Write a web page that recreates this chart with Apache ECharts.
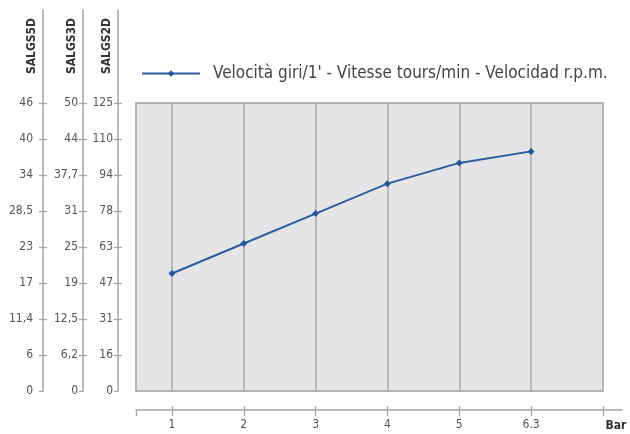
<!DOCTYPE html>
<html>
<head>
<meta charset="utf-8">
<script src="https://cdn.jsdelivr.net/npm/echarts@6/dist/echarts.min.js"></script>
<style>
  html, body {margin: 0; padding: 0; background: #fff;}
  #chart {width: 630px; height: 434px;}
</style>
</head>
<body>
<div id="chart"></div>
<script>
// pressure steps (x) and speed values (rpm, on SALGS2D scale)
const pressures = ['1', '2', '3', '4', '5', '6.3'];
const speed = [51, 64, 77, 90, 99, 104];
const seriesName = "Velocità giri/1' - Vitesse tours/min - Velocidad r.p.m.";

// tick labels of the three left scales, bottom to top
const ticks5D = ['0', '6', '11,4', '17', '23', '28,5', '34', '40', '46'];
const ticks3D = ['0', '6,2', '12,5', '19', '25', '31', '37,7', '44', '50'];
const ticks2D = ['0', '16', '31', '47', '63', '78', '94', '110', '125'];

const font = "'Liberation Sans Narrow', 'DejaVu Sans Condensed', 'Roboto', sans-serif";
const axisGrey = '#a4a4a4';
const textGrey = '#555';

const chart = echarts.init(document.getElementById('chart'));

// plot box is 8 tick-steps high; the scale lines run up to the top of the frame
const steps = ticks2D.length - 1;
const frameTop = 10, frameBottom = 43, boxTop = 103;
const frameH = 434 - frameTop - frameBottom;
const boxH = 434 - boxTop - frameBottom;
const frameMax = frameH / (boxH / steps);
const tickIdx = ticks2D.map((t, i) => i);
const xIdx = pressures.map((p, i) => i + 1);
const xFrameMax = 0.5 + (622 - 136) / ((603 - 136) / 6.5);

function leftAxis(name, labels, offset, margin) {
  return [{
    type: 'value', gridIndex: 1, position: 'left', offset: offset,
    min: 0, max: frameMax,
    name: name, nameLocation: 'end', nameRotate: 90, nameGap: -36,
    nameTextStyle: {
      fontFamily: font, fontWeight: 'bold', fontSize: 12, color: '#333',
      align: 'center', verticalAlign: 'bottom', padding: [0, 0, 5, 0]
    },
    axisLine: {show: true, onZero: false, lineStyle: {color: axisGrey, width: 1.5}},
    axisTick: {show: true, length: 4, customValues: tickIdx, lineStyle: {color: axisGrey, width: 1.2}},
    axisLabel: {
      customValues: tickIdx, margin: margin,
      fontFamily: font, fontSize: 12, color: textGrey,
      formatter: v => labels[Math.round(v)]
    },
    splitLine: {show: false}
  }, {
    // right half of the crossing ticks: hidden axis 4px to the right, 8px ticks
    type: 'value', gridIndex: 1, position: 'left', offset: offset - 4,
    min: 0, max: frameMax,
    axisLine: {show: false, onZero: false},
    axisTick: {show: true, length: 8, customValues: tickIdx.slice(1), lineStyle: {color: axisGrey, width: 1.2}},
    axisLabel: {show: false},
    splitLine: {show: false}
  }];
}

let option = {
  animation: false,
  legend: {
    left: 136, top: 60,
    itemWidth: 58, itemHeight: 8,
    textStyle: {fontFamily: font, fontSize: 17, color: '#444', padding: [0, 0, 0, 8]},
    data: [seriesName]
  },
  grid: [
    {
      left: 136, right: 27, top: boxTop, bottom: frameBottom,
      show: true, backgroundColor: '#e5e5e7', borderColor: '#a0a0a0', borderWidth: 1.5
    },
    {left: 136, right: 8, top: frameTop, bottom: frameBottom}
  ],
  xAxis: [
    {
      type: 'value', gridIndex: 0, min: 0.5, max: 6.5 + 0.5,
      axisLine: {show: false, onZero: false},
      axisTick: {show: false, customValues: xIdx},
      axisLabel: {show: false},
      splitLine: {show: true, lineStyle: {color: '#a9a9a9', width: 1.5}}
    },
    {
      type: 'value', gridIndex: 1, position: 'bottom', min: 0.5, max: xFrameMax, offset: 19,
      name: 'Bar', nameLocation: 'end', nameGap: -6,
      nameTextStyle: {
        fontFamily: font, fontWeight: 'bold', fontSize: 12, color: '#333',
        align: 'center', verticalAlign: 'top', padding: [10, 0, 0, 0]
      },
      axisLine: {show: true, onZero: false, lineStyle: {color: axisGrey, width: 1.5}},
      axisTick: {show: true, length: 6, customValues: [0.5].concat(xIdx, [7]), lineStyle: {color: axisGrey, width: 1.2}},
      axisLabel: {
        customValues: xIdx, margin: 9,
        fontFamily: font, fontSize: 12, color: textGrey,
        formatter: v => pressures[Math.round(v) - 1]
      },
      splitLine: {show: false}
    },
    {
      type: 'value', gridIndex: 1, position: 'bottom', min: 0.5, max: xFrameMax, offset: 19,
      axisLine: {show: false, onZero: false},
      axisTick: {show: true, inside: true, length: 4, customValues: xIdx.concat([7]), lineStyle: {color: axisGrey, width: 1.2}},
      axisLabel: {show: false},
      splitLine: {show: false}
    }
  ],
  yAxis: [
    {
      type: 'value', gridIndex: 0, min: 0, max: 125,
      axisLine: {show: false, onZero: false}, axisTick: {show: false},
      axisLabel: {show: false}, splitLine: {show: false}
    }
  ].concat(
    leftAxis('SALGS2D', ticks2D, 18, 5),
    leftAxis('SALGS3D', ticks3D, 53, 5),
    leftAxis('SALGS5D', ticks5D, 93, 10)
  ),
  series: [
    {
      name: seriesName,
      type: 'line',
      xAxisIndex: 0,
      yAxisIndex: 0,
      symbol: 'diamond',
      symbolSize: 7,
      color: '#1f579f',
      lineStyle: {width: 2, color: '#2a5d9f'},
      data: speed.map((v, i) => [xIdx[i], v])
    }
  ]
};

chart.setOption(option);
</script>
</body>
</html>
